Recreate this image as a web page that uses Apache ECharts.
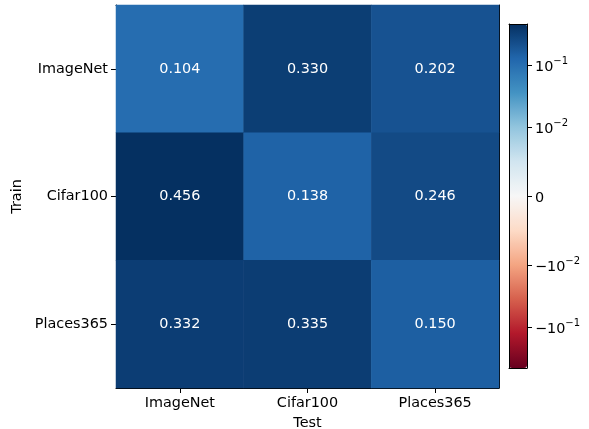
<!DOCTYPE html>
<html>
<head>
<meta charset="utf-8">
<script src="https://cdn.jsdelivr.net/npm/echarts@6/dist/echarts.min.js"></script>
<style>
  html, body { margin: 0; padding: 0; background: #fff; }
  #main { width: 589px; height: 429px; }
</style>
</head>
<body>
<div id="main"></div>
<script>
const testSets = ['ImageNet', 'Cifar100', 'Places365']
const trainSets = ['ImageNet', 'Cifar100', 'Places365']
// rows = train, cols = test
const rowImageNet = [0.104, 0.330, 0.202]
const rowCifar100 = [0.456, 0.138, 0.246]
const rowPlaces365 = [0.332, 0.335, 0.150]
const cbarTicks = [0.1, 0.01, 0, -0.01, -0.1]
const cbarLabels = ['{b|10}{s|−1}', '{b|10}{s|−2}', '{b|0}', '{b|−10}{s|−2}', '{b|−10}{s|−1}']

const rdbu = ['#67001f', '#b2182b', '#d6604d', '#f4a582', '#fddbc7', '#f7f7f7',
  '#d1e5f0', '#92c5de', '#4393c3', '#2166ac', '#053061']

// symlog like matplotlib, linthresh 0.01, linscale 1
const linthresh = 0.01
const linscaleAdj = 1 / (1 - 1 / 10)
const symlog = (x) => {
  const a = Math.abs(x)
  const s = x < 0 ? -1 : 1
  if (a <= linthresh) return s * (a / linthresh) * linscaleAdj
  return s * (linscaleAdj + Math.log10(a / linthresh))
}

const rows = [rowImageNet, rowCifar100, rowPlaces365]
const vmax = Math.max(...rows.flat().map(Math.abs))
const tmax = symlog(vmax)

const data = []
rows.forEach((row, y) => {
  row.forEach((v, x) => {
    data.push([x, y, v, symlog(v) / tmax])
  })
})

const font = 'DejaVu Sans'
const fs = 14.4
const chart = echarts.init(document.getElementById('main'))

const option = {
  animation: false,
  grid: [
    { left: 116, top: 5, width: 383, height: 383, outerBoundsMode: 'none', containLabel: false },
    { left: 509, top: 24, width: 18, height: 344, outerBoundsMode: 'none', containLabel: false }
  ],
  xAxis: [
    {
      gridIndex: 0,
      type: 'category',
      data: testSets,
      name: 'Test',
      nameLocation: 'middle',
      nameGap: 28,
      nameTextStyle: { color: '#000', fontSize: fs, fontFamily: font },
      axisLine: { show: true, lineStyle: { color: '#000' } },
      axisTick: { show: true, alignWithLabel: true, length: 5, lineStyle: { color: '#000' } },
      axisLabel: { color: '#000', fontSize: fs, fontFamily: font, margin: 8 },
      splitLine: { show: false }
    },
    {
      gridIndex: 0,
      type: 'category',
      data: testSets,
      position: 'top',
      axisLine: { show: true, lineStyle: { color: '#000' } },
      axisTick: { show: false },
      axisLabel: { show: false }
    },
    {
      gridIndex: 1,
      type: 'value',
      position: 'top',
      z: 10,
      axisLine: { show: true, onZero: false, lineStyle: { color: '#000' } },
      axisTick: { show: false },
      axisLabel: { show: false },
      splitLine: { show: false }
    },
    {
      gridIndex: 1,
      type: 'value',
      position: 'bottom',
      z: 10,
      axisLine: { show: true, onZero: false, lineStyle: { color: '#000' } },
      axisTick: { show: false },
      axisLabel: { show: false },
      splitLine: { show: false }
    }
  ],
  yAxis: [
    {
      gridIndex: 0,
      type: 'category',
      data: trainSets,
      inverse: true,
      name: 'Train',
      nameLocation: 'middle',
      nameGap: 89,
      nameTextStyle: { color: '#000', fontSize: fs, fontFamily: font },
      axisLine: { show: true, lineStyle: { color: '#000' } },
      axisTick: { show: true, alignWithLabel: true, length: 5, lineStyle: { color: '#000' } },
      axisLabel: { color: '#000', fontSize: fs, fontFamily: font, margin: 8 },
      splitLine: { show: false }
    },
    {
      gridIndex: 0,
      type: 'category',
      data: trainSets,
      inverse: true,
      position: 'right',
      axisLine: { show: true, lineStyle: { color: '#000' } },
      axisTick: { show: false },
      axisLabel: { show: false }
    },
    {
      gridIndex: 1,
      type: 'value',
      position: 'right',
      min: -tmax,
      max: tmax,
      z: 10,
      axisLine: { show: true, onZero: false, lineStyle: { color: '#000' } },
      axisTick: {
        show: true, length: 5, lineStyle: { color: '#000' },
        customValues: cbarTicks.map(symlog)
      },
      axisLabel: {
        color: '#000', fontSize: fs, fontFamily: font, margin: 8,
        customValues: cbarTicks.map(symlog),
        formatter: (val) => {
          const i = cbarTicks.findIndex((t) => Math.abs(symlog(t) - val) < 1e-6)
          return i >= 0 ? cbarLabels[i] : ''
        },
        rich: {
          b: { color: '#000', fontSize: fs, fontFamily: font, verticalAlign: 'bottom', lineHeight: 18 },
          s: { color: '#000', fontSize: 10, fontFamily: font, verticalAlign: 'top', lineHeight: 18 }
        }
      },
      splitLine: { show: false }
    },
    {
      gridIndex: 1,
      type: 'value',
      position: 'left',
      min: -tmax,
      max: tmax,
      z: 10,
      axisLine: { show: true, onZero: false, lineStyle: { color: '#000' } },
      axisTick: { show: false },
      axisLabel: { show: false },
      splitLine: { show: false }
    }
  ],
  visualMap: {
    type: 'continuous',
    dimension: 3,
    seriesIndex: 0,
    min: -1,
    max: 1,
    calculable: false,
    hoverLink: false,
    realtime: false,
    left: 509,
    top: 24,
    padding: 0,
    itemWidth: 18,
    itemHeight: 344,
    text: null,
    showLabel: false,
    inRange: { color: rdbu }
  },
  series: [
    {
      type: 'heatmap',
      xAxisIndex: 0,
      yAxisIndex: 0,
      data: data,
      label: {
        show: true,
        color: '#fff',
        fontSize: fs,
        fontFamily: font,
        formatter: (p) => p.value[2].toFixed(3)
      },
      emphasis: { disabled: true }
    }
  ]
}

chart.setOption(option)
</script>
</body>
</html>
